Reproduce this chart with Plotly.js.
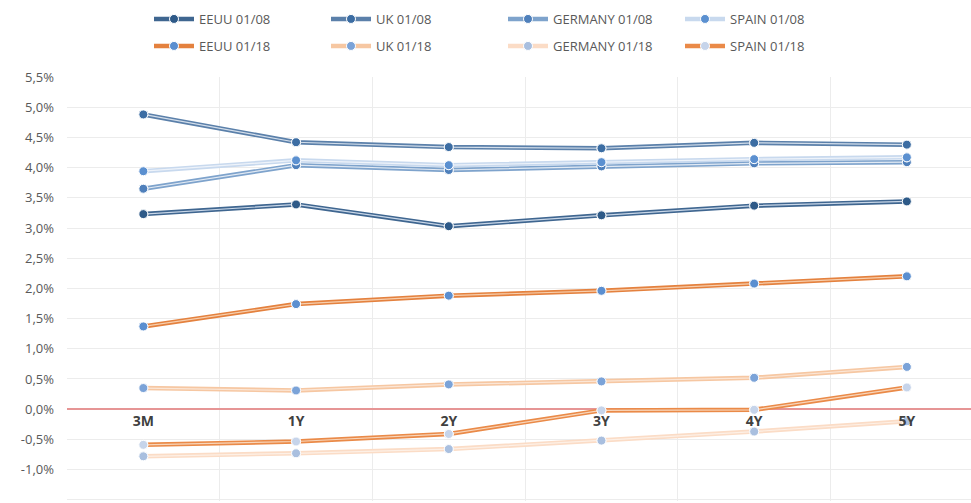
<!DOCTYPE html>
<html><head><meta charset="utf-8">
<script src="https://cdn.plot.ly/plotly-3.0.1.min.js"></script>
<style>html,body{margin:0;padding:0;background:#fff}#c{width:971px;height:503px}</style>
</head><body><div id="c"></div>
<script>
const categories = ['3M','1Y','2Y','3Y','4Y','5Y'];
const eeuu08    = [3.23, 3.39, 3.03, 3.21, 3.37, 3.44];
const uk08      = [4.88, 4.42, 4.34, 4.32, 4.41, 4.38];
const germany08 = [3.65, 4.04, 3.96, 4.02, 4.07, 4.09];
const spain08   = [3.94, 4.12, 4.04, 4.09, 4.14, 4.17];
const eeuu18    = [1.37, 1.74, 1.88, 1.96, 2.08, 2.20];
const uk18      = [0.35, 0.31, 0.41, 0.46, 0.52, 0.70];
const germany18 = [-0.78, -0.73, -0.66, -0.52, -0.37, -0.20];
const spain18   = [-0.59, -0.535, -0.41, -0.02, -0.01, 0.36];
const seriesNames = ['EEUU 01/08','UK 01/08','GERMANY 01/08','SPAIN 01/08','EEUU 01/18','UK 01/18','GERMANY 01/18','SPAIN 01/18'];
const yTickVals = [-1.5,-1,-0.5,0,0.5,1,1.5,2,2.5,3,3.5,4,4.5,5,5.5];

const seriesData = [eeuu08, uk08, germany08, spain08, eeuu18, uk18, germany18, spain18];
const styles = [
  {o:'#3f6690', i:'#c9d7e8', m:'#2e5a88', lg:'legend'},
  {o:'#5b80aa', i:'#d3deeb', m:'#3c6da3', lg:'legend'},
  {o:'#7ea3cc', i:'#e2eaf4', m:'#4f80bb', lg:'legend'},
  {o:'#c8d9ee', i:'#eef3fa', m:'#5b90d0', lg:'legend'},
  {o:'#e4813e', i:'#f7cfae', m:'#5b8fd0', lg:'legend2'},
  {o:'#f6c7a2', i:'#fbe6d6', m:'#7ba3d8', lg:'legend2'},
  {o:'#fbdcc6', i:'#fdf0e6', m:'#a9bfdf', lg:'legend2'},
  {o:'#ea8a48', i:'#f8d6bb', m:'#c6d4ea', lg:'legend2'}
];

const traces = [];
seriesData.forEach((vals, k) => {
  const s = styles[k];
  traces.push({x: categories, y: vals, name: seriesNames[k], type:'scatter', mode:'lines+markers',
    legend: s.lg, line:{color:s.o, width:4.5},
    marker:{color:s.m, size:9, line:{color:'#ffffff', width:1}}, hoverinfo:'skip'});
  traces.push({x: categories, y: vals, type:'scatter', mode:'lines', showlegend:false,
    line:{color:s.i, width:1.2}, hoverinfo:'skip'});
  traces.push({x: categories, y: vals, type:'scatter', mode:'markers', showlegend:false,
    marker:{color:s.m, size:9, line:{color:'#ffffff', width:1}}, hoverinfo:'skip'});
});

const fmt = v => (v < 0 ? '-' : '') + Math.abs(v).toFixed(1).replace('.', ',') + '%';

const legendCommon = {orientation:'h', xref:'container', yref:'container', xanchor:'left', yanchor:'middle',
  entrywidth:122, itemwidth:40, font:{family:'Open Sans, sans-serif', size:13, color:'#595959'}, bgcolor:'rgba(0,0,0,0)'};

const yMin = -1.52, yMax = 5.5;
const layout = {
  width:971, height:503,
  margin:{l:67, r:0, t:77, b:2},
  paper_bgcolor:'#ffffff', plot_bgcolor:'#ffffff',
  font:{family:'Open Sans, sans-serif', color:'#595959'},
  xaxis:{type:'category', range:[-0.5, 5.42], tickson:'boundaries', ticks:'',
    showgrid:true, gridcolor:'#ececec', gridwidth:1,
    anchor:'free', position:(0 - yMin)/(yMax - yMin), showline:false, zeroline:false,
    tickfont:{family:'Open Sans, sans-serif', size:14, color:'#404040', weight:'bold'}, ticklabelstandoff:2},
  yaxis:{range:[yMin, yMax], tickvals:yTickVals, ticktext:yTickVals.map(fmt),
    showgrid:true, gridcolor:'#ececec', gridwidth:1, zeroline:true, zerolinecolor:'#e69595', zerolinewidth:1.5,
    showline:false, ticks:'', ticklabelstandoff:12,
    tickfont:{family:'Open Sans, sans-serif', size:13, color:'#595959'}},
  legend:Object.assign({}, legendCommon, {x:149/971, y:1-19/503}),
  legend2:Object.assign({}, legendCommon, {x:149/971, y:1-46/503}),
  showlegend:true
};

Plotly.newPlot('c', traces, layout, {staticPlot:true, displayModeBar:false});
</script>
</body></html>
